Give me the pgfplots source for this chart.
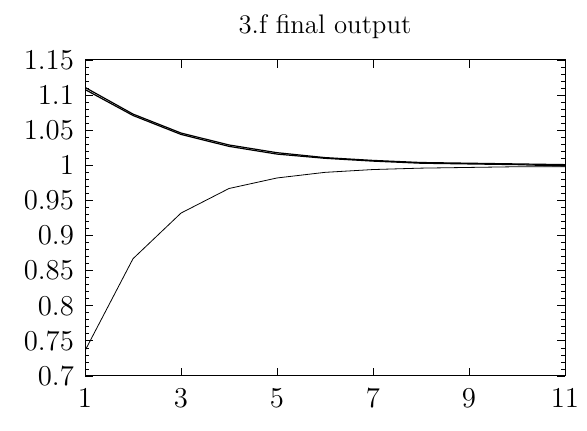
\documentclass[border=0pt]{standalone}
\usepackage{pgfplots}
\pgfplotsset{compat=1.18}
\begin{document}
\begin{tikzpicture}
\useasboundingbox (-42.5pt,-27.5pt) rectangle (251pt,188pt);
\begin{axis}[
  at={(0,0)}, anchor=south west,
  scale only axis,
  width=240pt, height=158pt,
  xmin=1, xmax=11, ymin=0.7, ymax=1.15,
  xtick={1,3,5,7,9,11},
  ytick={0.7,0.75,0.8,0.85,0.9,0.95,1,1.05,1.1,1.15},
  minor y tick num=4,
  tick align=inside,
  major tick length=4pt,
  minor tick length=2pt,
  tick style={black, line width=0.4pt},
  axis line style={line width=0.5pt},
  ticklabel style={font=\fontsize{15.5}{18}\selectfont},
  xticklabel style={yshift=-3pt},
  yticklabel style={/pgf/number format/fixed, xshift=-2pt},
  title={3.f final output},
  title style={font=\fontsize{13.4}{16}\selectfont, yshift=1pt},
]
\addplot[black, line width=0.6pt] coordinates {
 (1,1.111) (2,1.073) (3,1.046) (4,1.029) (5,1.018) (6,1.011) (7,1.007) (8,1.004) (9,1.003) (10,1.002) (11,1.001)};
\addplot[black, line width=0.6pt] coordinates {
 (1,1.108) (2,1.071) (3,1.044) (4,1.027) (5,1.016) (6,1.010) (7,1.006) (8,1.003) (9,1.002) (10,1.001) (11,0.999)};
\addplot[black, line width=0.4pt] coordinates {
 (1,0.736) (2,0.867) (3,0.932) (4,0.967) (5,0.982) (6,0.990) (7,0.994) (8,0.996) (9,0.997) (10,0.998) (11,0.998)};
\end{axis}
\end{tikzpicture}
\end{document}
